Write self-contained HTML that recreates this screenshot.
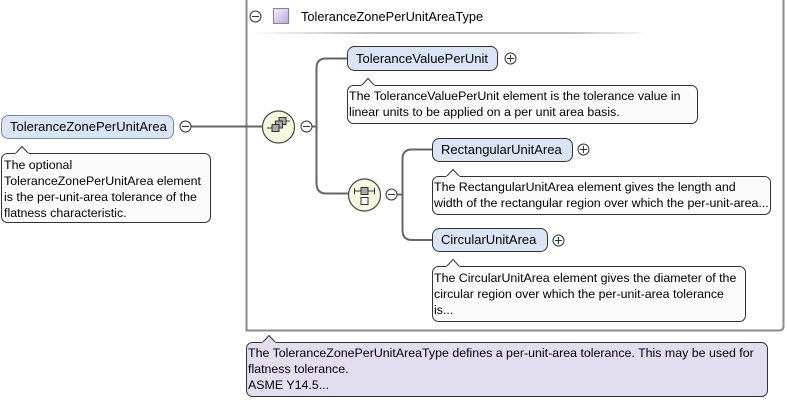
<!DOCTYPE html>
<html><head><meta charset="utf-8"><style>
html,body{margin:0;padding:0;background:#fff;}
svg{display:block;font-family:"Liberation Sans",Arial,sans-serif;font-size:12.4px;}
</style></head><body>
<svg width="787" height="400" viewBox="0 0 787 400" xmlns="http://www.w3.org/2000/svg">
<defs>
<linearGradient id="ul" x1="0" x2="1" y1="0" y2="0">
<stop offset="0" stop-color="#fff"/><stop offset="0.3" stop-color="#bbb"/><stop offset="0.8" stop-color="#bbb"/><stop offset="1" stop-color="#fff"/>
</linearGradient>
<linearGradient id="sq" x1="0" y1="0" x2="1" y2="1">
<stop offset="0" stop-color="#f4f0fa"/><stop offset="1" stop-color="#b8a8d8"/>
</linearGradient>
</defs>
<path d="M246.5 -1 V330.5 H779 Q783.5 330.5 783.5 326 V-1" fill="none" stroke="#8a8a8a" stroke-width="2"/>
<circle cx="255.5" cy="16.5" r="5.5" fill="#fff" stroke="#333"/>
<line x1="252" y1="16.5" x2="259" y2="16.5" stroke="#333"/>
<rect x="273.5" y="8.5" width="15" height="15" fill="url(#sq)" stroke="#8a7ab0"/>
<text x="301" y="21" fill="#000" font-size="12.8">ToleranceZonePerUnitAreaType</text>
<rect x="250" y="32" width="400" height="2" fill="url(#ul)"/>

<g stroke="#666" stroke-width="2" fill="none">
<line x1="191" y1="126.5" x2="262" y2="126.5"/>
<line x1="312" y1="126.5" x2="317" y2="126.5"/>
<path d="M347 58.5 H326 Q316.5 58.5 316.5 68 V183 Q316.5 193.5 326 193.5 H348"/>
<line x1="397" y1="194.5" x2="402" y2="194.5"/>
<path d="M432 149.5 H412 Q402.5 149.5 402.5 159 V230 Q402.5 240 412 240 H432"/>
</g>

<rect x="1.5" y="115.5" width="172" height="23" rx="7" fill="#d9e5f6" stroke="#7a8aa0"/>
<text x="10" y="131" fill="#000" font-size="13">ToleranceZonePerUnitArea</text>
<circle cx="185.5" cy="126.5" r="5.5" fill="#fff" stroke="#333"/>
<line x1="182" y1="126.5" x2="189" y2="126.5" stroke="#333"/>
<rect x="1.5" y="153.5" width="209" height="69" rx="6" fill="#fbfbfb" stroke="#333"/>
<path d="M15 154 L22 146.5 L29 154" fill="#fbfbfb" stroke="#333"/>
<rect x="15.5" y="153" width="13" height="2" fill="#fbfbfb"/>
<text fill="#000"><tspan x="4" y="169">The optional</tspan><tspan x="4" y="185">ToleranceZonePerUnitArea element</tspan><tspan x="4" y="201">is the per-unit-area tolerance of the</tspan><tspan x="4" y="217">flatness characteristic.</tspan></text>

<circle cx="278.5" cy="127" r="16" fill="#fbf8e0" stroke="#444" stroke-width="1.2"/>
<g stroke="#333" fill="#aaa">
<rect x="279" y="117.5" width="7" height="7"/>
<rect x="275.5" y="121" width="7" height="7"/>
<rect x="272" y="124.5" width="7" height="7"/>
</g>
<line x1="267" y1="128" x2="272" y2="128" stroke="#333"/>
<line x1="286" y1="121" x2="290" y2="121" stroke="#333"/>
<circle cx="306.5" cy="126.5" r="5.5" fill="#fff" stroke="#333"/>
<line x1="303" y1="126.5" x2="310" y2="126.5" stroke="#333"/>

<circle cx="364.5" cy="195" r="16" fill="#fbf8e0" stroke="#444" stroke-width="1.2"/>
<rect x="361" y="187.5" width="7" height="7" fill="#aaa" stroke="#333"/>
<rect x="361" y="197.5" width="7" height="7" fill="#fff" stroke="#333"/>
<line x1="354" y1="191" x2="361" y2="191" stroke="#333"/>
<line x1="368" y1="191" x2="375" y2="191" stroke="#333"/>
<line x1="354.5" y1="188" x2="354.5" y2="194" stroke="#333"/>
<line x1="374.5" y1="188" x2="374.5" y2="194" stroke="#333"/>
<circle cx="391.5" cy="194.5" r="5.5" fill="#fff" stroke="#333"/>
<line x1="388" y1="194.5" x2="395" y2="194.5" stroke="#333"/>

<rect x="347.5" y="46.5" width="150" height="24" rx="7" fill="#d9e5f6" stroke="#333"/>
<text x="356" y="63" fill="#000" font-size="13">ToleranceValuePerUnit</text>
<circle cx="510.5" cy="58.5" r="5.5" fill="#fff" stroke="#333"/>
<path d="M507 58.5 H514 M510.5 55 V62" stroke="#333"/>
<rect x="347.5" y="85.5" width="350" height="38" rx="6" fill="#fbfbfb" stroke="#333"/>
<path d="M361 86 L368 78.5 L375 86" fill="#fbfbfb" stroke="#333"/>
<rect x="361.5" y="85" width="13" height="2" fill="#fbfbfb"/>
<text fill="#000"><tspan x="349" y="100">The ToleranceValuePerUnit element is the tolerance value in</tspan><tspan x="349" y="116">linear units to be applied on a per unit area basis.</tspan></text>

<rect x="432.5" y="138.5" width="140" height="23" rx="7" fill="#d9e5f6" stroke="#333"/>
<text x="441" y="154" fill="#000" font-size="13">RectangularUnitArea</text>
<circle cx="583.5" cy="149.5" r="5.5" fill="#fff" stroke="#333"/>
<path d="M580 149.5 H587 M583.5 146 V153" stroke="#333"/>
<rect x="432.5" y="176.5" width="338" height="38" rx="6" fill="#fbfbfb" stroke="#333"/>
<path d="M446 177 L453 169.5 L460 177" fill="#fbfbfb" stroke="#333"/>
<rect x="446.5" y="176" width="13" height="2" fill="#fbfbfb"/>
<text fill="#000"><tspan x="434" y="191">The RectangularUnitArea element gives the length and</tspan><tspan x="434" y="207">width of the rectangular region over which the per-unit-area...</tspan></text>

<rect x="432.5" y="228.5" width="115" height="23" rx="7" fill="#d9e5f6" stroke="#333"/>
<text x="441" y="244" fill="#000" font-size="13">CircularUnitArea</text>
<circle cx="558.5" cy="240.5" r="5.5" fill="#fff" stroke="#333"/>
<path d="M555 240.5 H562 M558.5 237 V244" stroke="#333"/>
<rect x="432.5" y="266.5" width="313" height="55" rx="6" fill="#fbfbfb" stroke="#333"/>
<path d="M446 267 L453 259.5 L460 267" fill="#fbfbfb" stroke="#333"/>
<rect x="446.5" y="266" width="13" height="2" fill="#fbfbfb"/>
<text fill="#000"><tspan x="434" y="282">The CircularUnitArea element gives the diameter of the</tspan><tspan x="434" y="298">circular region over which the per-unit-area tolerance</tspan><tspan x="434" y="314">is...</tspan></text>

<rect x="246.5" y="342.5" width="521" height="54" rx="6" fill="#e2ddef" stroke="#333"/>
<path d="M262 343 L269 335.5 L276 343" fill="#e2ddef" stroke="#333"/>
<rect x="262.5" y="342" width="13" height="2" fill="#e2ddef"/>
<text fill="#000"><tspan x="248" y="357">The ToleranceZonePerUnitAreaType defines a per-unit-area tolerance. This may be used for</tspan><tspan x="248" y="373">flatness tolerance.</tspan><tspan x="248" y="389">ASME Y14.5...</tspan></text>
</svg>
</body></html>
